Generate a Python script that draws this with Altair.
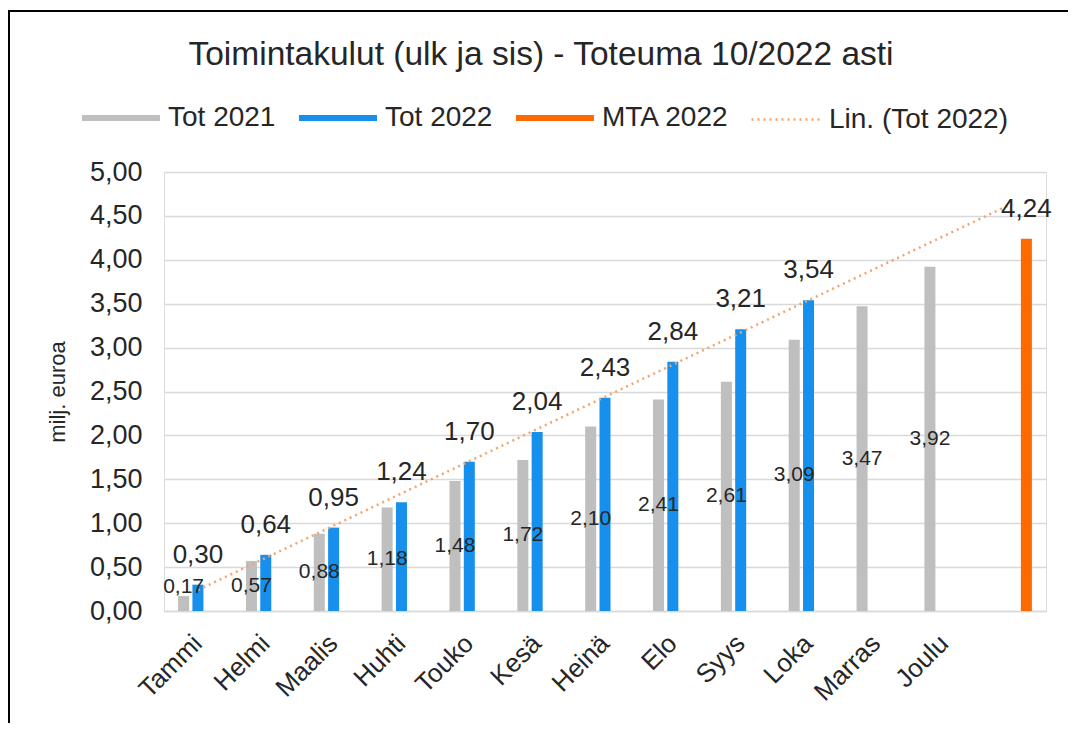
import altair as alt
import pandas as pd

months = ["Tammi", "Helmi", "Maalis", "Huhti", "Touko", "Kesä", "Heinä",
          "Elo", "Syys", "Loka", "Marras", "Joulu", " "]
tot2021 = [0.17, 0.57, 0.88, 1.18, 1.48, 1.72, 2.10, 2.41, 2.61, 3.09, 3.47, 3.92]
tot2022 = [0.30, 0.64, 0.95, 1.24, 1.70, 2.04, 2.43, 2.84, 3.21, 3.54]
mta2022 = [4.24]
series_names = ["Tot 2021", "Tot 2022", "MTA 2022"]
trend_name = "Lin. (Tot 2022)"
colors = ["#BFBFBF", "#1690EC", "#FF6A00"]
trend_color = "#F2A36E"
y_ticks = [0.0, 0.5, 1.0, 1.5, 2.0, 2.5, 3.0, 3.5, 4.0, 4.5, 5.0]
title_text = "Toimintakulut (ulk ja sis) - Toteuma 10/2022 asti"
y_title = "milj. euroa"

rows = []
for i, v in enumerate(tot2021):
    rows.append({"month": months[i], "series": "Tot 2021", "value": v, "idx": i + 1})
for i, v in enumerate(tot2022):
    rows.append({"month": months[i], "series": "Tot 2022", "value": v, "idx": i + 1})
for v in mta2022:
    rows.append({"month": months[12], "series": "MTA 2022", "value": v, "idx": 13})
df = pd.DataFrame(rows)

FONT = "Liberation Sans"
TXT = "#262626"
fmt = "replace(format(datum.value, '.2f'), '.', ',')"

y_scale = alt.Scale(domain=[0, 5], nice=False)
y_axis = alt.Axis(values=y_ticks, labelExpr=fmt, title=y_title, titleFontSize=22,
                  titleFont=FONT, titleFontWeight="normal", titleColor=TXT,
                  titlePadding=20, labelFontSize=27, labelFont=FONT, labelColor=TXT,
                  labelPadding=22, ticks=False, domain=False, gridColor="#D9D9D9",
                  gridWidth=1.5)

x_scale = alt.Scale(domain=months, paddingInner=0, paddingOuter=0)
x_axis = alt.Axis(title=None, labelAngle=-45, labelAlign="right", labelBaseline="middle",
                  labelFontSize=26, labelFont=FONT, labelColor=TXT, labelPadding=28,
                  ticks=False, domainColor="#D9D9D9", domainWidth=1.5)
xoff = alt.XOffset("series:N", sort=series_names,
                   scale=alt.Scale(domain=series_names, paddingInner=0.23, paddingOuter=0.985))

bar_legend = alt.Legend(
    title=None, orient="none", direction="horizontal", legendX=-82, legendY=-93,
    symbolType="M-1,-0.075H1V0.075H-1Z", symbolSize=6084, symbolStrokeWidth=0,
    labelFontSize=28, labelFont=FONT, labelColor=TXT, labelOffset=8,
    columnPadding=23, labelLimit=400,
)
trend_legend = alt.Legend(
    title=None, orient="none", direction="horizontal", legendX=586, legendY=-88,
    symbolType="M-1,0H1", symbolSize=4624, symbolStrokeWidth=2.5,
    symbolStrokeColor=trend_color, labelFontSize=28, labelFont=FONT, labelColor=TXT,
    labelOffset=8, labelLimit=400,
)

bars = alt.Chart(df).mark_bar().encode(
    x=alt.X("month:N", sort=months, scale=x_scale, axis=x_axis),
    xOffset=xoff,
    y=alt.Y("value:Q", scale=y_scale, axis=y_axis),
    color=alt.Color("series:N", sort=series_names,
                    scale=alt.Scale(domain=series_names, range=colors),
                    legend=bar_legend),
)

text2021 = alt.Chart(df).transform_filter(
    alt.datum.series == "Tot 2021"
).transform_calculate(
    ypos="max(datum.value / 2, 0.27)",
    label=fmt,
).mark_text(fontSize=21, font=FONT, color=TXT, baseline="middle").encode(
    x=alt.X("month:N", sort=months, scale=x_scale, axis=None),
    xOffset=xoff,
    y=alt.Y("ypos:Q", scale=y_scale, axis=y_axis),
    text="label:N",
)

text2022 = alt.Chart(df).transform_filter(
    alt.datum.series != "Tot 2021"
).transform_calculate(
    label=fmt,
).mark_text(fontSize=26, font=FONT, color=TXT, baseline="alphabetic", dy=-22).encode(
    x=alt.X("month:N", sort=months, scale=x_scale, axis=None),
    xOffset=xoff,
    y=alt.Y("value:Q", scale=y_scale, axis=y_axis),
    text="label:N",
)

trend = alt.Chart(df).transform_filter(
    alt.datum.series == "Tot 2022"
).transform_regression("idx", "value", extent=[1, 13]).transform_calculate(
    name="'" + trend_name + "'"
).mark_line(strokeWidth=2.5, color=trend_color).encode(
    x=alt.X("idx:Q", scale=alt.Scale(domain=[0.5, 13.5], nice=False, zero=False), axis=None),
    y=alt.Y("value:Q", scale=y_scale, axis=y_axis),
    strokeDash=alt.StrokeDash("name:N", scale=alt.Scale(domain=[trend_name], range=[[2, 4]]),
                              legend=trend_legend),
)

frame = alt.Chart(pd.DataFrame({"f": [0]})).mark_rect(
    fillOpacity=0, stroke="#000000", strokeWidth=2
).encode(
    x=alt.value(-155), x2=alt.value(940), y=alt.value(-161), y2=alt.value(620)
)

chart = alt.layer(bars, trend, text2021, text2022, frame).resolve_scale(
    x="independent"
).properties(
    width=882, height=439,
    title=alt.TitleParams(title_text, fontSize=33.5, font=FONT, fontWeight="normal",
                          color=TXT, anchor="middle", dx=-64, offset=-62),
    autosize="none",
    padding={"left": 156, "top": 164, "right": 22, "bottom": 112},
).configure_view(stroke=None).configure(background="white")

chart.save("out.html", embed_options={"renderer": "svg", "actions": False})
